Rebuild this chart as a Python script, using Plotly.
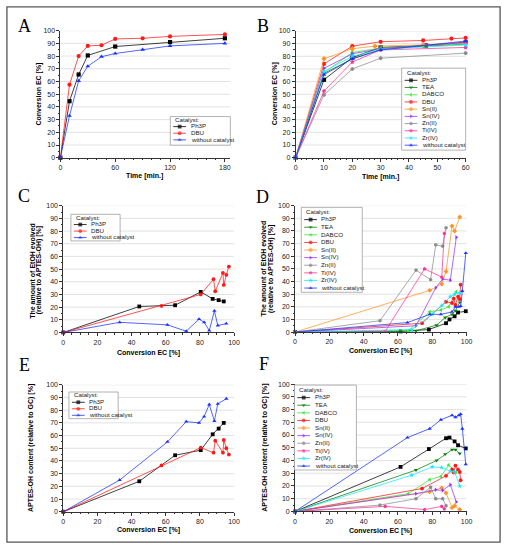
import plotly.graph_objects as go

W, H = 512, 550
SANS = "Liberation Sans"
SERIF = "Liberation Serif"

# --- data ---

# A: conversion of EC vs time
a_time_ph3p = [0, 10, 20, 30, 60, 120, 180]
a_conv_ph3p = [0, 44.5, 65.5, 80.5, 87.5, 91, 94]
a_time_dbu = [0, 10, 20, 30, 45, 60, 90, 120, 180]
a_conv_dbu = [0, 57.5, 80, 88, 88.5, 93.5, 94, 95.5, 97]
a_time_none = [0, 10, 20, 30, 45, 60, 90, 120, 180]
a_conv_none = [0, 33, 60.5, 72, 79.5, 82, 85, 88, 90]

# B: conversion of EC vs time, all catalysts
b_time_ph3p = [0, 10, 20, 30, 46, 60]
b_conv_ph3p = [0, 61.5, 79, 87, 88.5, 91]
b_time_tea = [0, 10, 20, 30, 45, 60]
b_conv_tea = [0, 66.5, 78, 85.5, 88, 89.5]
b_time_dabco = [0, 10, 20, 30, 45, 60]
b_conv_dabco = [0, 67, 83, 86.5, 88.5, 90]
b_time_dbu = [0, 10, 20, 30, 45, 55, 60]
b_conv_dbu = [0, 74, 88, 91.5, 92.5, 94, 94.5]
b_time_sn2 = [0, 10, 20, 28, 45, 60]
b_conv_sn2 = [0, 78, 86, 88, 89, 90.5]
b_time_sn4 = [0, 10, 20, 30, 60]
b_conv_sn4 = [0, 70.5, 82, 86, 91]
b_time_zn2 = [0, 10, 20, 30, 60]
b_conv_zn2 = [0, 49.5, 70, 78.5, 82.5]
b_time_ti4 = [0, 10, 20, 30, 60]
b_conv_ti4 = [0, 52.5, 75.5, 85, 87]
b_time_zr4 = [0, 10, 20, 30, 60]
b_conv_zr4 = [0, 68, 80, 85.5, 89]
b_time_none = [0, 10, 20, 30, 60]
b_conv_none = [0, 65.5, 78, 85, 92]

# C / E: EtOH evolved and APTES-OH content vs conversion (3 runs)
ce_conv_ph3p = [0, 44.5, 65.5, 80.5, 87.5, 91, 94]
c_etoh_ph3p = [0, 20.5, 21.5, 32, 26.5, 25.5, 24.5]
e_aptes_ph3p = [0, 24, 44.5, 48.5, 61, 65.5, 70]
ce_conv_dbu = [0, 57.5, 80.5, 88, 89, 93.5, 94, 95.5, 97]
c_etoh_dbu = [0, 21, 30, 42, 32.5, 47, 37.5, 45.5, 52]
e_aptes_dbu = [0, 36.5, 50.5, 46.5, 56, 46.5, 56.5, 50, 45]
ce_conv_none = [0, 33, 61, 72, 79.5, 82.5, 85.5, 88.5, 90.5, 95.5]
c_etoh_none = [0, 8, 6, 1, 10.5, 8, 1.5, 17, 5.5, 7]
e_aptes_none = [0, 25, 55, 71, 70, 75, 84.5, 71.5, 85, 89]

# D / F: EtOH evolved and APTES-OH content vs conversion (all catalysts)
df_conv_ph3p = [0, 61.5, 78, 88, 90, 93, 95, 99.5]
d_etoh_ph3p = [0, 0.5, 2, 7, 10, 12.5, 15.5, 16.5]
f_aptes_ph3p = [0, 35, 49, 57.5, 58, 55, 52, 49.5]
df_conv_tea = [0, 70.5, 82.5, 87.5, 91.5, 93.5, 96]
d_etoh_tea = [0, 1, 5.5, 11.5, 14, 17, 23.5]
f_aptes_tea = [0, 32.5, 40, 45, 48.5, 48.5, 45.5]
df_conv_dabco = [0, 66, 78.5, 85, 89.5, 94]
d_etoh_dabco = [0, 1, 16, 17.5, 20, 32]
f_aptes_dabco = [0, 14, 25, 27.5, 36.5, 31]
df_conv_dbu = [0, 74, 88, 91.5, 92.5, 93.5, 95, 96, 96.5]
d_etoh_dbu = [0, 7, 24, 23, 26.5, 21.5, 28, 26, 37.5]
f_aptes_dbu = [0, 18, 28, 33, 30.5, 36, 33, 31, 24.5]
df_conv_sn2 = [0, 78.5, 85.5, 88, 91.5, 93, 96]
d_etoh_sn2 = [0, 33, 38, 48, 84, 80, 91]
f_aptes_sn2 = [0, 15.5, 18.5, 14.5, 3, 4.5, 1.5]
df_conv_sn4 = [0, 70.5, 82, 86, 90.5, 94]
d_etoh_sn4 = [0, 5, 35, 42, 41, 75]
f_aptes_sn4 = [0, 14, 17, 16.5, 21, 7.5]
df_conv_zn2 = [0, 49.5, 70.5, 79, 82, 86, 88]
d_etoh_zn2 = [0, 9, 49, 41.5, 69, 68, 82.5]
f_aptes_zn2 = [0, 5, 10, 19, 10, 10, 4.5]
df_conv_ti4 = [0, 52.5, 75.5, 85.5, 87]
d_etoh_ti4 = [0, 0.5, 50, 43.5, 78]
f_aptes_ti4 = [0, 4, 1.5, 4, 2]
df_conv_zr4 = [0, 68, 80, 85.5, 90.5, 93, 96]
d_etoh_zr4 = [0, 2, 14, 21, 28, 30, 31]
f_aptes_zr4 = [0, 28.5, 35, 34.5, 31.5, 31, 20]
df_conv_none = [0, 65.5, 78.5, 85, 91.5, 93.5, 95.5, 96.5, 97.5, 99.5]
d_etoh_none = [0, 7.5, 14, 14, 16, 20, 20, 20.5, 32.5, 62.5]
f_aptes_none = [0, 58, 65, 72, 75.5, 74, 75.5, 76.5, 65, 37]

names = ["Ph3P", "TEA", "DABCO", "DBU", "Sn(II)", "Sn(IV)", "Zn(II)", "Ti(IV)", "Zr(IV)", "without catalyst"]

# styles
colors = ["#000000", "#0a800a", "#33e633", "#ff1a1a", "#ff9326", "#9933ff", "#8c8c8c", "#ff3399", "#1ae6ff", "#1a33ff"]
symbols = ["square", "triangle-down", "triangle-left", "circle", "diamond", "triangle-right", "hexagon", "pentagon", "star", "triangle-up"]

fig = go.Figure()


def sfx(n):
    return "" if n == 1 else str(n)


def add_line(n, x, y, k, size=3.8):
    fig.add_trace(go.Scatter(
        x=x, y=y, mode="lines+markers", showlegend=False, cliponaxis=False,
        xaxis="x" + sfx(n), yaxis="y" + sfx(n),
        line=dict(color=colors[k], width=0.75),
        marker=dict(color=colors[k], symbol=symbols[k], size=size, line=dict(width=0)),
        name=names[k]))


def set_axes(n, box, xrange, xdtick, xminor):
    left, top, right, bottom = box
    common = dict(ticks="outside", ticklen=3, tickwidth=0.8, tickcolor="#333",
                  showline=True, linecolor="#333", linewidth=0.8, zeroline=False,
                  showgrid=False, tickfont=dict(family=SANS, size=7, color="#222"))
    fig.update_layout(**{
        "xaxis" + sfx(n): dict(domain=[left / W, right / W], anchor="y" + sfx(n),
                               range=xrange, tick0=0, dtick=xdtick,
                               minor=dict(ticks="outside", ticklen=1.5, tickcolor="#333",
                                          tick0=0, dtick=xminor), **common),
        "yaxis" + sfx(n): dict(domain=[1 - bottom / H, 1 - top / H], anchor="x" + sfx(n),
                               range=[0, 100], tick0=0, dtick=10,
                               minor=dict(ticks="outside", ticklen=1.5, tickcolor="#333",
                                          tick0=0, dtick=5), **common),
    })
    # horizontal grid at every major y tick
    for v in range(10, 101, 10):
        fig.add_shape(type="line", xref="x" + sfx(n), yref="y" + sfx(n),
                      x0=xrange[0], x1=xrange[1], y0=v, y1=v,
                      line=dict(color="#dadada", width=0.8), layer="below")


# panel plot areas in pixels: left, top, right, bottom
set_axes(1, (59.3, 27, 232, 155.7), [0, 186], 60, 10)
set_axes(2, (298.3, 27.3, 471, 155.7), [0, 60], 10, 2)
set_axes(3, (62.3, 204.3, 235.7, 332.7), [0, 100], 20, 5)
set_axes(4, (297.7, 204.3, 472, 332.3), [0, 100], 20, 5)
set_axes(5, (62.3, 385.7, 235.7, 514.3), [0, 100], 20, 5)
set_axes(6, (297.7, 385, 472, 514), [0, 100], 20, 5)

# A
add_line(1, a_time_ph3p, a_conv_ph3p, 0, 4.2)
add_line(1, a_time_dbu, a_conv_dbu, 3, 4.2)
add_line(1, a_time_none, a_conv_none, 9, 4.2)

# B
b_runs = [(b_time_ph3p, b_conv_ph3p), (b_time_tea, b_conv_tea), (b_time_dabco, b_conv_dabco),
          (b_time_dbu, b_conv_dbu), (b_time_sn2, b_conv_sn2), (b_time_sn4, b_conv_sn4),
          (b_time_zn2, b_conv_zn2), (b_time_ti4, b_conv_ti4), (b_time_zr4, b_conv_zr4),
          (b_time_none, b_conv_none)]
for k, (t, c) in enumerate(b_runs):
    add_line(2, t, c, k, 4.2)

# C and E
add_line(3, ce_conv_ph3p, c_etoh_ph3p, 0)
add_line(3, ce_conv_dbu, c_etoh_dbu, 3)
add_line(3, ce_conv_none, c_etoh_none, 9)
add_line(5, ce_conv_ph3p, e_aptes_ph3p, 0)
add_line(5, ce_conv_dbu, e_aptes_dbu, 3)
add_line(5, ce_conv_none, e_aptes_none, 9)

# D and F
df_runs = [(df_conv_ph3p, d_etoh_ph3p, f_aptes_ph3p), (df_conv_tea, d_etoh_tea, f_aptes_tea),
           (df_conv_dabco, d_etoh_dabco, f_aptes_dabco), (df_conv_dbu, d_etoh_dbu, f_aptes_dbu),
           (df_conv_sn2, d_etoh_sn2, f_aptes_sn2), (df_conv_sn4, d_etoh_sn4, f_aptes_sn4),
           (df_conv_zn2, d_etoh_zn2, f_aptes_zn2), (df_conv_ti4, d_etoh_ti4, f_aptes_ti4),
           (df_conv_zr4, d_etoh_zr4, f_aptes_zr4), (df_conv_none, d_etoh_none, f_aptes_none)]
for k, (c, e, a) in enumerate(df_runs):
    add_line(4, c, e, k)
    add_line(6, c, a, k)

# overlay subplot in pixel coordinates for legends, titles and frame
fig.update_layout(
    xaxis7=dict(domain=[0, 1], range=[0, W], visible=False, showgrid=False, anchor="y7"),
    yaxis7=dict(domain=[0, 1], range=[H, 0], visible=False, showgrid=False, anchor="x7"),
)


def txt(x, y, text, size=7, angle=0, xanchor="center", family=SANS, color="#000"):
    fig.add_annotation(xref="x7", yref="y7", x=x, y=y, text=text, showarrow=False,
                       xanchor=xanchor, yanchor="middle", textangle=angle,
                       font=dict(family=family, size=size, color=color))


def add_legend(box, idx, title_y, step):
    x0, y0, x1, y1 = box
    fig.add_shape(type="rect", xref="x7", yref="y7", x0=x0, y0=y0, x1=x1, y1=y1,
                  fillcolor="white", line=dict(color="#a0a0a0", width=0.8), layer="below")
    txt(x0 + 3, title_y - 0.8, "Catalyst:", 6.2, xanchor="left", color="#222")
    for i, k in enumerate(idx):
        yy = title_y + (i + 1) * step
        fig.add_trace(go.Scatter(
            x=[x0 + 3, x0 + 9.5, x0 + 16], y=[yy] * 3, xaxis="x7", yaxis="y7",
            mode="lines+markers", showlegend=False, hoverinfo="skip",
            line=dict(color=colors[k], width=0.8),
            marker=dict(color=colors[k], symbol=symbols[k], size=[0, 3.8, 0], line=dict(width=0))))
        txt(x0 + 18.5, yy - 0.8, names[k], 6.2, xanchor="left", color="#222")


three = [0, 3, 9]
every = list(range(10))
add_legend((171, 114, 232, 143), three, 117.5, 6.7)
add_legend((406, 65, 471, 148), every, 70, 7.3)
add_legend((70, 213, 120, 240), three, 216.8, 6.6)
add_legend((304, 206, 366, 292), every, 210.7, 7.7)
add_legend((68, 393, 118, 420), three, 396.8, 6.6)
add_legend((297, 386, 360, 472), every, 391, 7.7)

# axis titles
txt(145, 174.3, "<b>Time [min.]</b>")
txt(384.5, 175.7, "<b>Time [min.]</b>")
txt(149, 353, "<b>Conversion EC [%]</b>")
txt(384.5, 351.7, "<b>Conversion EC [%]</b>")
txt(149, 533, "<b>Conversion EC [%]</b>")
txt(384.5, 534, "<b>Conversion EC [%]</b>")
txt(37.3, 91, "<b>Conversion EC [%]</b>", angle=-90)
txt(276.7, 91, "<b>Conversion EC [%]</b>", angle=-90)
txt(30.7, 270, "<b>The amount of EtOH evolved</b>", angle=-90)
txt(37.3, 270, "<b>(relative to APTES-OH) [%]</b>", angle=-90)
txt(266, 268, "<b>The amount of EtOH evolved</b>", angle=-90)
txt(272.7, 268, "<b>(relative to APTES-OH) [%]</b>", angle=-90)
txt(29.3, 450, "<b>APTES-OH content (relative to GC) [%]</b>", angle=-90)
txt(267.7, 450, "<b>APTES-OH content (relative to GC) [%]</b>", angle=-90)

# panel letters
for letter, lx, ly in [("A", 23, 22), ("B", 265, 22), ("C", 22.5, 194),
                       ("D", 265, 195), ("E", 23, 366), ("F", 266, 365)]:
    txt(lx, ly, letter, 18, family=SERIF)

# outer frame
fig.add_shape(type="rect", xref="x7", yref="y7", x0=5, y0=3, x1=506, y1=545,
              line=dict(color="#555", width=1.3), layer="above")

fig.update_layout(
    width=W, height=H,
    margin=dict(l=0, r=0, t=0, b=0),
    paper_bgcolor="white", plot_bgcolor="rgba(0,0,0,0)",
    font=dict(family=SANS),
    showlegend=False,
)

# drop the browser's default body margin so the figure sits at the page corner
fig.write_html("out.html", config={"displayModeBar": False},
               post_script="document.body.style.margin = '0';")
